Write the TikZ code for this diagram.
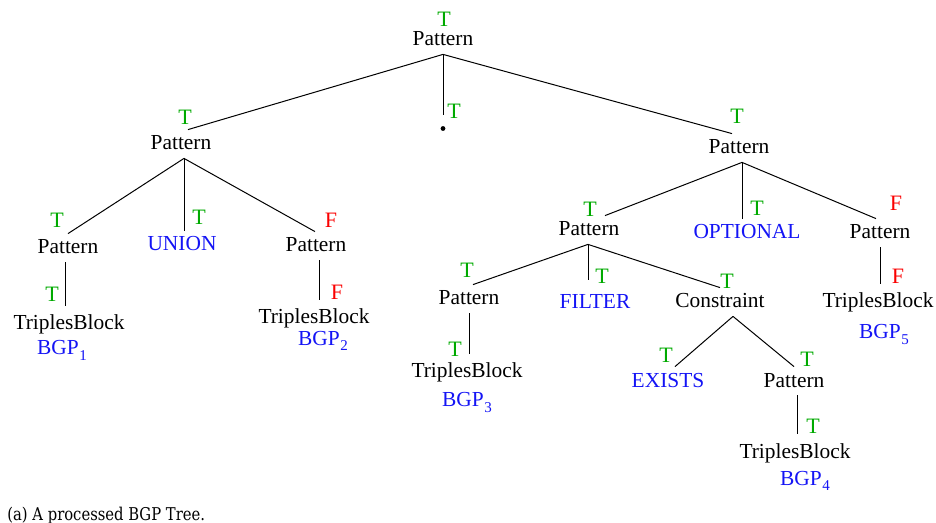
\documentclass[tikz,border=0pt]{standalone}
\usepackage{fontspec}
\setmainfont{Liberation Serif}
\newfontfamily\capfont[FakeStretch=0.84]{DejaVu Serif}
\definecolor{tgreen}{RGB}{0,170,0}
\definecolor{tblue}{RGB}{20,20,245}
\definecolor{tred}{RGB}{250,0,0}
% basic graph pattern label with a lowered index
\newcommand{\bgp}[1]{BGP\kern0.3pt\raisebox{-2.6pt}{\fontsize{7.5}{8}\selectfont #1}}

\begin{document}
\begin{tikzpicture}[x=0.5pt,y=-0.5pt,
  lbl/.style={anchor=base, inner sep=2pt, text height=8pt, text depth=2pt,
              font=\fontsize{10.7}{12}\selectfont},
  kw/.style={lbl, text=tblue},
  tb/.style={lbl, text height=10pt},
  flagT/.style={anchor=base, inner sep=0pt, text=tgreen, font=\fontsize{11}{12}\selectfont},
  flagF/.style={flagT, text=tred},
  bgp/.style={anchor=base, inner sep=0pt, text=tblue, font=\fontsize{10.7}{12}\selectfont},
  edge/.style={line width=0.5pt}]
\path[use as bounding box] (0,0) rectangle (936,523);

% ---- nodes ----
\node[lbl] (root) at (443,46) {Pattern};
\node[flagT] (rootf) at (444,27) {T};
\node[circle, fill, inner sep=0pt, minimum size=2.4pt, outer sep=5.5pt] (dot) at (443,128.5) {};
\node[flagT] (dotf) at (454,119) {T};

\node[lbl] (l1) at (181,150) {Pattern};
\node[flagT] (l1f) at (185,125) {T};
\node[lbl] (r1) at (739,154) {Pattern};
\node[flagT] (r1f) at (737,124) {T};

\node[lbl] (ll) at (68,254) {Pattern};
\node[flagT] (llf) at (57,228) {T};
\node[kw] (union) at (182,251) {UNION};
\node[flagT] (unionf) at (199,225) {T};
\node[lbl] (lr) at (316,252) {Pattern};
\node[flagF] (lrf) at (331,228) {F};

\node[tb] (tb1) at (69,330) {TriplesBlock};
\node[flagT] (tb1f) at (52,302) {T};
\node[bgp] (bgp1) at (62,355) {\bgp{1}};
\node[tb] (tb2) at (314,324) {TriplesBlock};
\node[flagF] (tb2f) at (337,300) {F};
\node[bgp] (bgp2) at (323,345) {\bgp{2}};

\node[lbl] (rl) at (589,236) {Pattern};
\node[flagT] (rlf) at (590,217) {T};
\node[kw] (opt) at (747,239) {OPTIONAL};
\node[flagT] (optf) at (757,216) {T};
\node[lbl] (rr) at (880,239) {Pattern};
\node[flagF] (rrf) at (896,211) {F};
\node[tb] (tb5) at (878,308) {TriplesBlock};
\node[flagF] (tb5f) at (898,284) {F};
\node[bgp] (bgp5) at (884,339) {\bgp{5}};

\node[lbl] (rll) at (469,305) {Pattern};
\node[flagT] (rllf) at (467,278) {T};
\node[tb] (tb3) at (467,378) {TriplesBlock};
\node[flagT] (tb3f) at (455,357) {T};
\node[bgp] (bgp3) at (467,407) {\bgp{3}};
\node[kw, text height=12.5pt] (filter) at (595,309) {FILTER};
\node[flagT] (filterf) at (602,284) {T};
\node[lbl] (con) at (720,308) {Constraint};
\node[flagT] (conf) at (727,289) {T};

\node[kw] (exists) at (668,387) {EXISTS};
\node[flagT] (existsf) at (666,363) {T};
\node[lbl] (p4) at (794,387) {Pattern};
\node[flagT] (p4f) at (807,366) {T};
\node[tb] (tb4) at (795,458) {TriplesBlock};
\node[flagT] (tb4f) at (813,433) {T};
\node[bgp] (bgp4) at (805,485) {\bgp{4}};

\node[anchor=base west, inner sep=0pt, font=\capfont\fontsize{8.8}{10}\selectfont] (cap) at (7,520)
  {(a) A processed BGP Tree.};

% ---- branching points below the parents ----
\coordinate (rootb) at (root.south);
\coordinate (l1b) at ([xshift=1.5pt]l1.south);
\coordinate (r1b) at ([xshift=1.5pt]r1.south);
\coordinate (llb) at ([xshift=-1.5pt]ll.south);
\coordinate (lrb) at ([xshift=1.5pt]lr.south);
\coordinate (rlb) at ([xshift=-0.5pt]rl.south);
\coordinate (rrb) at (rr.south);
\coordinate (rllb) at (rll.south);
\coordinate (conb) at ([xshift=6.5pt]con.south);
\coordinate (p4b) at ([xshift=1.5pt]p4.south);

% ---- edges ----
\draw[edge] (rootb) -- ([xshift=3.5pt]l1.north);
\draw[edge] (rootb) -- (rootb |- dot.north);
\draw[edge] (rootb) -- ([xshift=-3.5pt]r1.north);

\draw[edge] (l1b) -- (ll.north);
\draw[edge] (l1b) -- (l1b |- union.north);
\draw[edge] (l1b) -- ([xshift=-0.5pt]lr.north);
\draw[edge] (llb) -- (llb |- tb1.north);
\draw[edge] (lrb) -- (lrb |- tb2.north);

\draw[edge] (r1b) -- ([xshift=8pt]rl.north);
\draw[edge] (r1b) -- (r1b |- opt.north);
\draw[edge] (r1b) -- ([xshift=-2pt]rr.north);
\draw[edge] (rrb) -- (rrb |- tb5.north);

\draw[edge] (rlb) -- ([xshift=2pt]rll.north);
\draw[edge] (rlb) -- (rlb |- filter.north);
\draw[edge] (rlb) -- (con.north);
\draw[edge] (rllb) -- (rllb |- tb3.north);

\draw[edge] (conb) -- ([xshift=3.5pt]exists.north);
\draw[edge] (conb) -- (p4.north);
\draw[edge] (p4b) -- (p4b |- tb4.north);
\end{tikzpicture}
\end{document}
